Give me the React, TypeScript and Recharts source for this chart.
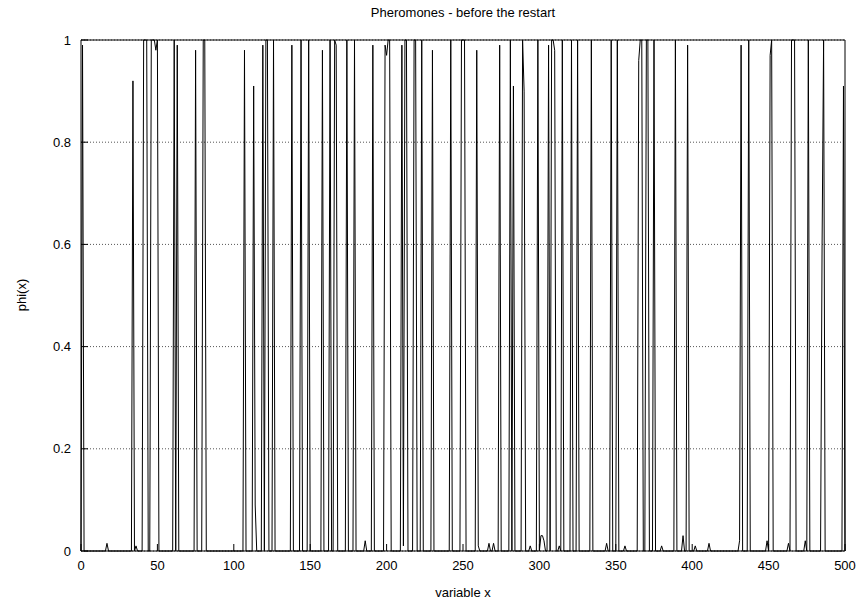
import React from 'react';
import { LineChart, Line, XAxis, YAxis, CartesianGrid } from 'recharts';

const xTicks = [0, 50, 100, 150, 200, 250, 300, 350, 400, 450, 500];
const yTicks = [0, 0.2, 0.4, 0.6, 0.8, 1];

// variables where phi(x) is not zero
const highX = [
  1, 17, 34, 36, 41, 42, 43, 46, 47, 48, 49, 50, 61, 63, 75, 80, 81,
  107, 113, 114, 119, 121, 122, 126, 138, 144, 149, 158, 163, 166, 167,
  174, 179, 186, 191, 199, 200, 201, 202, 210, 211, 212, 213, 218, 219, 223, 230,
  242, 249, 250, 251, 259, 260, 267, 270, 274, 281, 283, 289, 290, 294, 299,
  301, 302, 303, 306, 308, 309, 310, 313, 315, 321, 325, 334, 344, 347, 351,
  356, 365, 366, 367, 370, 371, 375, 380, 389, 394, 397, 402, 411,
  431, 432, 437, 449, 451, 452, 463, 465, 466, 467, 474, 476, 485, 486, 499,
];
const highPhi = [
  0.99, 0.015, 0.92, 0.01, 1, 1, 1, 1, 1, 1, 0.98, 1, 1, 0.99, 0.98, 1, 1,
  0.98, 0.91, 0.09, 0.99, 1, 1, 1, 0.99, 1, 1, 0.98, 1, 1, 0.99,
  1, 1, 0.02, 0.99, 0.99, 0.97, 1, 1, 0.99, 0.01, 1, 1, 1, 1, 1, 0.98,
  1, 1, 1, 1, 0.98, 0.01, 0.015, 0.015, 0.99, 1, 0.91, 1, 0.9, 0.01, 1,
  0.03, 0.03, 0.02, 0.99, 1, 1, 0.98, 0.01, 1, 1, 1, 1, 0.015, 1, 1,
  0.01, 0.96, 1, 1, 1, 1, 1, 0.01, 1, 0.03, 0.99, 0.01, 0.015,
  0.02, 0.99, 1, 0.02, 0.97, 1, 0.015, 1, 1, 1, 0.02, 1, 0.6, 1, 0.91,
];

const data: { x: number; phi: number }[] = [];
for (let x = 0; x <= 500; x++) {
  const i = highX.indexOf(x);
  data.push({ x, phi: i >= 0 ? highPhi[i] : 0 });
}

const font = '"Liberation Sans", Arial, sans-serif';
const tickStyle = { fontSize: 13, fontFamily: font, fill: '#000' };

export default function App() {
  return (
    <div style={{ position: 'absolute', left: 0, top: 0, width: 861, height: 604, background: '#fff' }}>
      <div
        style={{
          position: 'absolute', left: 81, width: 764, top: 5, textAlign: 'center',
          fontFamily: font, fontSize: 13, color: '#000',
        }}
      >
        Pheromones - before the restart
      </div>
      <div
        style={{
          position: 'absolute', left: 21, top: 295, fontFamily: font, fontSize: 13,
          transform: 'translate(-50%, -50%) rotate(-90deg)', whiteSpace: 'nowrap',
        }}
      >
        phi(x)
      </div>
      <LineChart width={861} height={604} data={data} margin={{ top: 39, right: 15, left: 0, bottom: 0 }}>
        <CartesianGrid vertical={false} stroke="#555" strokeDasharray="1 2" />
        <Line
          type="linear" dataKey="phi" stroke="#000" strokeWidth={1} dot={false}
          isAnimationActive={false}
        />
        <XAxis
          dataKey="x" type="number" domain={[0, 500]} ticks={xTicks} interval={0}
          height={53} tickSize={-7} tickMargin={17} tick={tickStyle} stroke="#000"
          label={{ value: 'variable x', position: 'insideBottom', offset: 7, style: tickStyle }}
        />
        <YAxis
          type="number" domain={[0, 1]} ticks={yTicks} interval={0} width={81}
          tickSize={-7} tickMargin={17} tick={tickStyle} stroke="#000"
        />
        <XAxis
          xAxisId="top" orientation="top" dataKey="x" type="number" domain={[0, 500]}
          ticks={xTicks} interval={0} height={1} tickSize={-7} tick={false} stroke="#000"
        />
        <YAxis
          yAxisId="right" orientation="right" type="number" domain={[0, 1]} ticks={yTicks}
          interval={0} width={1} tickSize={-7} tick={false} stroke="#000"
        />
      </LineChart>
    </div>
  );
}
